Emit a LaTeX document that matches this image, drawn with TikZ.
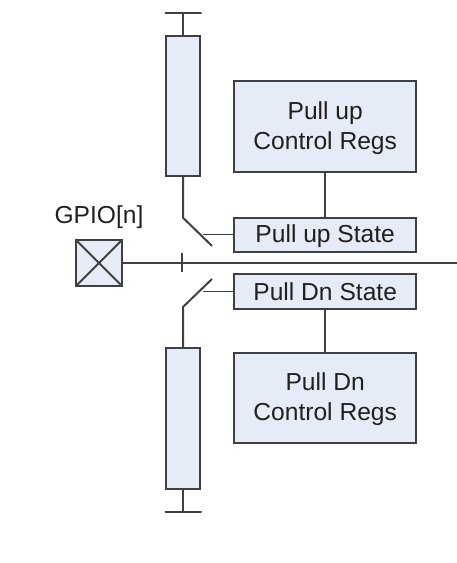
\documentclass[tikz,border=0pt]{standalone}
\usepackage{fontspec}
\setmainfont{Liberation Sans}
\definecolor{boxfill}{HTML}{E6ECF7}
\definecolor{linecol}{HTML}{404040}
\definecolor{textcol}{HTML}{202020}
\tikzset{
  wire/.style={draw=linecol,line width=2pt},
  thinwire/.style={draw=linecol,line width=1.6pt},
  block/.style={draw=linecol,line width=2pt,fill=boxfill,rectangle,inner sep=0pt,outer sep=0pt,
    text=textcol,align=center,font=\fontsize{24.6}{30}\selectfont},
}
\begin{document}
\begin{tikzpicture}[x=1pt,y=-1pt]
\useasboundingbox (0,0) rectangle (457,563);
% resistors
\node[block,minimum width=34.5pt,minimum height=140pt] (rup) at (183,105.5) {};
\node[block,minimum width=34.5pt,minimum height=140.5pt] (rdn) at (183,418.7) {};
% control and state blocks
\node[block,minimum width=182.5pt,minimum height=91pt] (cup) at (325.2,126.5) {\rule{0pt}{20.9pt}Pull up\\Control Regs};
\node[block,minimum width=182.5pt,minimum height=90pt] (cdn) at (325.2,398.3) {\rule{0pt}{18.9pt}Pull Dn\\Control Regs};
\node[block,minimum width=182.5pt,minimum height=34pt] (sup) at (325.2,234.5) {\rule{0pt}{21.9pt}Pull up State};
\node[block,minimum width=182.5pt,minimum height=35pt] (sdn) at (325.2,291.5) {Pull Dn State};
% pad
\node[block,minimum width=46pt,minimum height=46pt] (gpio) at (99,263) {};
\node[text=textcol,font=\fontsize{24.6}{30}\selectfont,inner sep=0pt] (gpiolabel) at (99,217) {GPIO[n]};
\draw[wire,line cap=round] (gpio.north west) -- (gpio.south east);
\draw[wire,line cap=round] (gpio.north east) -- (gpio.south west);
% free ends
\coordinate (barupL) at (165.5,13);
\coordinate (barupR) at (201,13);
\coordinate (barupM) at (183,13);
\coordinate (bardnL) at (165.5,512);
\coordinate (bardnR) at (201,512);
\coordinate (bardnM) at (183,512);
\coordinate (lineend) at (457,263);
\coordinate (ticktop) at (182.3,253);
\coordinate (tickbot) at (182.3,272);
\coordinate (upbend) at (183,217.7);
\coordinate (uptip) at (212,246);
\coordinate (upjoin) at (203.3,234.5);
\coordinate (dnbend) at (183,307);
\coordinate (dntip) at (212,279);
\coordinate (dnjoin) at (203.3,291.5);
% rails
\draw[wire,line cap=round] (barupL) -- (barupR);
\draw[wire] (barupM) -- (rup.north);
\draw[wire,line cap=round] (bardnL) -- (bardnR);
\draw[wire] (bardnM) -- (rdn.south);
% main line
\draw[wire] (gpio.east) -- (lineend);
\draw[wire] (ticktop) -- (tickbot);
% switches
\draw[wire,line join=round] (rup.south) -- (upbend) -- (uptip);
\draw[wire,line join=round] (rdn.north) -- (dnbend) -- (dntip);
\draw[thinwire] (upjoin) -- (sup.west);
\draw[thinwire] (dnjoin) -- (sdn.west);
% links
\draw[wire] (cup.south) -- (sup.north);
\draw[wire] (sdn.south) -- (cdn.north);
\end{tikzpicture}
\end{document}
